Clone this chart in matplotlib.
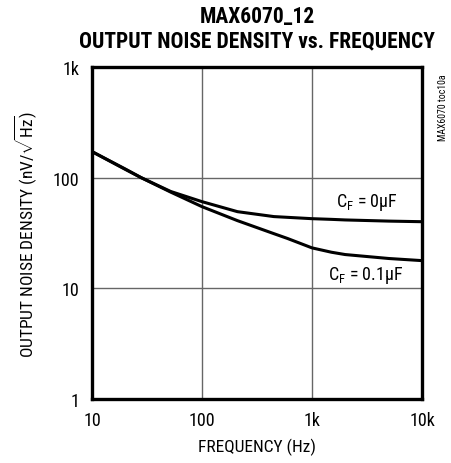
import numpy as np
import matplotlib.pyplot as plt

plt.rcParams['font.family'] = ['Roboto Condensed', 'DejaVu Sans']
plt.rcParams['mathtext.fontset'] = 'custom'
plt.rcParams['mathtext.rm'] = 'Roboto Condensed'
plt.rcParams['mathtext.it'] = 'Roboto Condensed'

# 数据
freq = [10, 20, 28, 52, 100, 210, 450, 600, 1000, 1500, 2000, 5000, 10000]
noise_cf0 = [172, 120, 100, 75, 60.7, 49.3, 44.5, 43.8, 42.6, 42.0, 41.5, 40.5, 40]
noise_cf01 = [172, 119, 100, 74, 54.7, 40.9, 31.2, 28.2, 23.2, 21.2, 20.2, 18.6, 17.8]

x_ticks = [10, 100, 1000, 10000]
x_labels = ['10', '100', '1k', '10k']
y_ticks = [1, 10, 100, 1000]
y_labels = ['1', '10', '100', '1k']

fig = plt.figure(figsize=(4.52, 4.64), dpi=100)
ax = fig.add_axes([92 / 452, 64 / 464, 330 / 452, 332 / 464])

ax.plot(freq, noise_cf0, color='black', linewidth=2.2)
ax.plot(freq, noise_cf01, color='black', linewidth=2.2)

ax.set_xscale('log')
ax.set_yscale('log')
ax.set_xlim(10, 10000)
ax.set_ylim(1, 1000)
ax.set_xticks(x_ticks)
ax.set_xticklabels(x_labels)
ax.set_yticks(y_ticks)
ax.set_yticklabels(y_labels)
ax.minorticks_off()
ax.tick_params(length=0, labelsize=13, pad=9)

ax.grid(True, color='#666666', linewidth=1.0)
for s in ax.spines.values():
    s.set_linewidth(2.4)

ax.set_xlabel('FREQUENCY (Hz)', fontsize=12.5, labelpad=6)
ax.set_ylabel(r'OUTPUT NOISE DENSITY (nV/$\sqrt{\mathrm{Hz}}$)', fontsize=12.5, labelpad=10)

ax.text(3160, 60.7, r'C$_\mathregular{F}$ = 0µF', fontsize=13, ha='center', va='center')
ax.text(3100, 13.3, r'C$_\mathregular{F}$ = 0.1µF', fontsize=13, ha='center', va='center')

fig.text(257 / 452, 0.963, 'MAX6070_12', ha='center', va='center', fontsize=15.5, fontweight='bold')
fig.text(257 / 452, 0.91, 'OUTPUT NOISE DENSITY vs. FREQUENCY', ha='center', va='center',
         fontsize=15.5, fontweight='bold')
fig.text(443 / 452, 0.767, 'MAX6070 toc10a', rotation=90, fontsize=7, ha='center', va='center')

fig.savefig('out.png', dpi=100)
